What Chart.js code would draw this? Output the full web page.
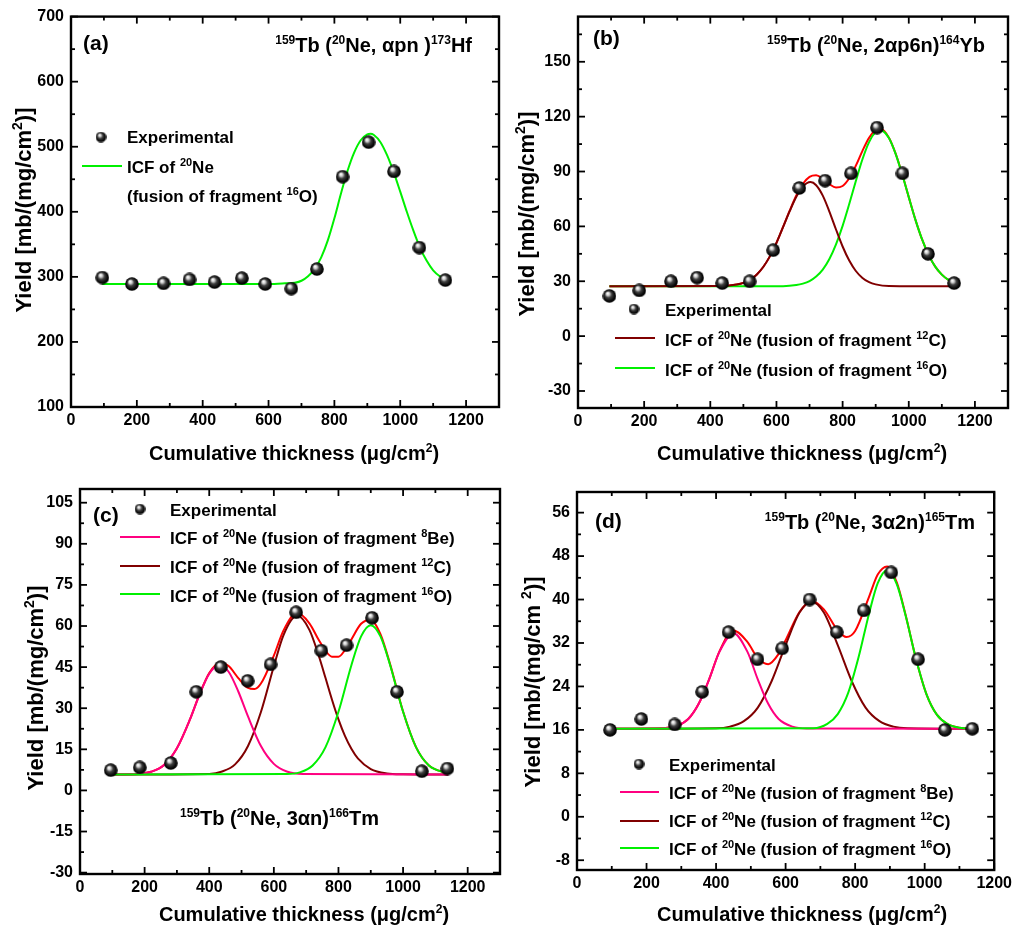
<!DOCTYPE html>
<html>
<head>
<meta charset="utf-8">
<script src="https://cdn.jsdelivr.net/npm/chart.js@4.4.1/dist/chart.umd.min.js"></script>
<style>
  html, body { margin: 0; padding: 0; background: #fff; }
  #page { position: relative; width: 1016px; height: 931px; overflow: hidden; }
  #page canvas { position: absolute; }
</style>
</head>
<body>
<div id="page">
  <canvas id="panelA" width="508" height="470" style="left:0;top:0"></canvas>
  <canvas id="panelB" width="508" height="470" style="left:508px;top:0"></canvas>
  <canvas id="panelC" width="508" height="461" style="left:0;top:470px"></canvas>
  <canvas id="panelD" width="508" height="461" style="left:508px;top:470px"></canvas>
</div>
<script>
// cumulative target thickness of each foil (ug/cm2), shared by all four panels
const thickness = [95, 185, 281, 360, 436, 519, 590, 669, 747, 825, 904, 981, 1058, 1137];

// measured yields, mb/(mg/cm2)
const yieldHf173 = [299, 289, 290, 296, 292, 298, 289, 282, 312, 454, 507, 462, 345, 295];
const yieldYb164 = [22, 25, 30, 32, 29, 30, 47, 81, 85, 89, 114, 89, 45, 29];
const yieldTm166 = [7.4, 8.4, 10, 36, 45, 40, 46, 65, 51, 53, 63, 36, 7, 8];
const yieldTm165 = [16, 18, 17, 23, 34, 29, 31, 40, 34, 38, 45, 29, 16, 16.2];

// (a) fitted ICF curve, 16O fragment
const aFit16Ox = [95, 600, 650, 680, 700, 720, 740, 760, 780, 800, 820, 840, 860, 880, 900, 910, 920, 940, 960, 980, 1000, 1020, 1040, 1060, 1080, 1100, 1120, 1140];
const aFit16Oy = [289, 289, 290, 291, 294, 301, 312, 330, 356, 390, 428, 463, 491, 510, 519, 520, 518, 507, 487, 461, 431, 400, 371, 345, 325, 310, 301, 296];

// (b) fitted components and their sum
const bFit12Cx = [95, 440, 480, 500, 520, 540, 560, 580, 600, 620, 640, 660, 680, 703, 720, 740, 760, 780, 800, 820, 840, 860, 880, 900, 940, 1140];
const bFit12Cy = [27.2, 27.4, 28.2, 29.1, 30.8, 33.6, 37.8, 43.6, 51, 59.6, 68.3, 76.2, 81.8, 84.2, 82.5, 76.8, 68.1, 58.3, 49, 41.3, 35.6, 31.8, 29.5, 28.3, 27.4, 27.2];
const bFit16Ox = [95, 620, 660, 680, 700, 720, 740, 760, 780, 800, 820, 840, 860, 880, 900, 913, 920, 940, 960, 980, 1000, 1020, 1040, 1060, 1080, 1100, 1120, 1140];
const bFit16Oy = [27.2, 27.3, 27.9, 28.7, 30.1, 32.6, 36.4, 42.2, 50.2, 60.3, 72.2, 84.8, 96.7, 106.1, 111.7, 112.8, 112.5, 108.3, 99.8, 88.5, 76, 63.7, 53, 44.4, 38, 33.6, 30.7, 29.1];
const bSumX = [95, 440, 480, 500, 520, 540, 560, 580, 600, 620, 640, 660, 680, 700, 720, 740, 760, 780, 800, 820, 840, 860, 880, 900, 916, 940, 960, 980, 1000, 1020, 1040, 1060, 1080, 1100, 1120, 1140];
const bSumY = [27.2, 27.4, 28.2, 29.1, 30.8, 33.6, 37.8, 43.6, 51, 59.7, 68.6, 76.9, 83.3, 87.1, 87.9, 86, 83.1, 81.3, 82.1, 86.3, 93.2, 101.3, 108.4, 112.8, 113.3, 108.5, 99.9, 88.6, 76, 63.7, 53, 44.4, 38, 33.6, 30.7, 29.1];

// (c) fitted components and their sum
const cFit8Bex = [95, 180, 220, 260, 300, 340, 370, 400, 432, 460, 490, 520, 560, 600, 640, 690, 1140];
const cFit8Bey = [5.8, 6.0, 6.8, 9.3, 15.4, 25.8, 35, 42.6, 45.8, 43.3, 36.1, 27, 16.2, 9.7, 6.9, 6.0, 5.8];
const cFit12Cx = [95, 400, 440, 480, 520, 560, 600, 630, 672, 710, 740, 760, 780, 800, 820, 840, 860, 900, 950, 1000, 1140];
const cFit12Cy = [5.8, 6.0, 6.9, 9.5, 16.2, 28.6, 45.3, 56.7, 63.8, 58.6, 48.8, 41, 33.1, 25.9, 19.9, 15.2, 11.7, 7.8, 6.2, 5.9, 5.8];
const cFit16Ox = [95, 640, 680, 720, 760, 800, 840, 870, 900, 930, 960, 1000, 1040, 1080, 1140];
const cFit16Oy = [5.8, 6.0, 6.6, 9.1, 15.8, 28.7, 45.7, 56.2, 60.3, 56.2, 45.7, 28.7, 15.8, 9.1, 6.2];
const cSumX = [95, 180, 220, 260, 300, 340, 370, 400, 432, 460, 490, 520, 540, 560, 600, 630, 672, 710, 740, 760, 780, 800, 820, 840, 870, 900, 930, 960, 1000, 1040, 1080, 1140];
const cSumY = [5.8, 6.0, 6.8, 9.3, 15.4, 25.8, 35.1, 42.8, 46.6, 45.4, 41.0, 37.4, 37.0, 39.0, 49.2, 58.4, 64.8, 61.0, 54.7, 51.0, 48.8, 48.8, 51.2, 55.1, 60.8, 62.3, 57.0, 46.0, 28.8, 15.8, 9.1, 6.2];

// (d) fitted components and their sum
const dFit8Bex = [95, 250, 290, 320, 350, 380, 410, 450, 490, 520, 550, 580, 620, 660, 1140];
const dFit8Bey = [16.2, 16.3, 16.8, 18, 20.8, 25.3, 30.4, 33.8, 30.4, 25.3, 20.8, 18, 16.6, 16.25, 16.2];
const dFit12Cx = [95, 400, 440, 480, 520, 560, 600, 640, 675, 710, 750, 790, 830, 870, 910, 950, 1140];
const dFit12Cy = [16.2, 16.3, 16.6, 17.6, 20.1, 25, 31.6, 37.6, 39.6, 37.6, 31.6, 25, 20.1, 17.6, 16.6, 16.3, 16.2];
const dFit16Ox = [95, 680, 720, 750, 780, 810, 840, 865, 892, 920, 945, 975, 1005, 1035, 1065, 1100, 1140];
const dFit16Oy = [16.2, 16.3, 17.1, 18.9, 22.8, 29.4, 37.4, 43, 45.4, 42.8, 37.1, 29.1, 22.6, 18.8, 17.1, 16.4, 16.2];
const dSumX = [95, 250, 290, 320, 350, 380, 410, 450, 490, 520, 550, 580, 600, 640, 675, 710, 750, 775, 800, 840, 865, 892, 920, 945, 975, 1005, 1035, 1065, 1100, 1140];
const dSumY = [16.2, 16.3, 16.8, 18, 20.8, 25.3, 30.5, 34.3, 32.2, 29.2, 28.1, 30, 32.5, 37.7, 39.7, 38.2, 34.3, 33.1, 34.2, 40.5, 44.6, 46.1, 43.1, 37.2, 29.1, 22.6, 18.8, 17.1, 16.4, 16.2];

// labelled tick values
const xTickVals = [0, 200, 400, 600, 800, 1000, 1200];
const aYTickVals = [100, 200, 300, 400, 500, 600, 700];
const bYTickVals = [-30, 0, 30, 60, 90, 120, 150];
const cYTickVals = [-30, -15, 0, 15, 30, 45, 60, 75, 90, 105];
const dYTickVals = [-8, 0, 8, 16, 24, 32, 40, 48, 56];

const FAMILY = '"Liberation Sans", Arial, Helvetica, sans-serif';
const GREEN = '#00f000';
const WINE = '#800000';
const RED = '#ff0000';
const PINK = '#ff0080';

function makeBall(d) {
  const c = document.createElement('canvas');
  c.width = d; c.height = d;
  const g = c.getContext('2d');
  const r = d / 2;
  const grad = g.createRadialGradient(r * 0.72, r * 0.62, r * 0.05, r, r, r);
  grad.addColorStop(0, '#ffffff');
  grad.addColorStop(0.2, '#cfcfcf');
  grad.addColorStop(0.45, '#404040');
  grad.addColorStop(0.8, '#080808');
  grad.addColorStop(1, '#000000');
  g.fillStyle = grad;
  g.beginPath();
  g.arc(r, r, r - 0.2, 0, Math.PI * 2);
  g.fill();
  return c;
}
const ball = makeBall(14);
const legendBall = makeBall(11);

function pts(xs, ys) {
  return xs.map((x, i) => ({ x: x, y: ys[i] }));
}

function expSet(ys) {
  return {
    data: pts(thickness, ys),
    pointStyle: ball, pointRadius: 7, pointHoverRadius: 7,
    showLine: false, order: 0
  };
}

function fitSet(xs, ys, color, order) {
  return {
    data: pts(xs, ys),
    showLine: true, borderColor: color, borderWidth: 2,
    pointRadius: 0, pointHoverRadius: 0,
    cubicInterpolationMode: 'monotone', fill: false, order: order
  };
}

// midpoints between labelled ticks, plus one step past each end if it fits
function minors(majors, lo, hi) {
  const step = majors[1] - majors[0];
  const out = [];
  if (majors[0] - step / 2 >= lo) out.push(majors[0] - step / 2);
  for (let i = 0; i < majors.length - 1; i++) out.push((majors[i] + majors[i + 1]) / 2);
  const last = majors[majors.length - 1] + step / 2;
  if (last <= hi) out.push(last);
  return out;
}

// text with ^{...} superscripts
function drawRich(ctx, str, x, y, size, align, rot) {
  const parts = [];
  const re = /\^\{([^}]*)\}/g;
  let last = 0, m;
  while ((m = re.exec(str))) {
    if (m.index > last) parts.push([str.slice(last, m.index), false]);
    parts.push([m[1], true]);
    last = re.lastIndex;
  }
  if (last < str.length) parts.push([str.slice(last), false]);
  const supSize = Math.round(size * 0.62);
  const font = s => 'bold ' + s + 'px ' + FAMILY;
  let w = 0;
  parts.forEach(p => { ctx.font = font(p[1] ? supSize : size); w += ctx.measureText(p[0]).width; });
  ctx.save();
  ctx.translate(x, y);
  if (rot) ctx.rotate(rot);
  ctx.fillStyle = '#000';
  ctx.textBaseline = 'alphabetic';
  ctx.textAlign = 'left';
  let cx = align === 'center' ? -w / 2 : align === 'right' ? -w : 0;
  parts.forEach(p => {
    ctx.font = font(p[1] ? supSize : size);
    ctx.fillText(p[0], cx, p[1] ? -size * 0.42 : 0);
    cx += ctx.measureText(p[0]).width;
  });
  ctx.restore();
}

function decorPlugin(spec, ox, oy) {
  return {
    id: 'panelDecor',
    afterDraw(chart) {
      const ctx = chart.ctx;
      const a = chart.chartArea;
      const sx = chart.scales.x, sy = chart.scales.y;
      const line = (x1, y1, x2, y2) => { ctx.beginPath(); ctx.moveTo(x1, y1); ctx.lineTo(x2, y2); ctx.stroke(); };
      ctx.save();
      ctx.strokeStyle = '#000';
      ctx.lineWidth = 1.8;
      // inward ticks on all four sides
      const xm = minors(xTickVals, sx.min, sx.max);
      const ym = minors(spec.yTicks, sy.min, sy.max);
      [[xTickVals, 7], [xm, 4]].forEach(([vals, len]) => vals.forEach(v => {
        const p = sx.getPixelForValue(v);
        line(p, a.bottom, p, a.bottom - len);
        line(p, a.top, p, a.top + len);
      }));
      [[spec.yTicks, 7], [ym, 4]].forEach(([vals, len]) => vals.forEach(v => {
        const p = sy.getPixelForValue(v);
        line(a.left, p, a.left + len, p);
        line(a.right, p, a.right - len, p);
      }));
      ctx.lineWidth = 2.4;
      ctx.strokeRect(a.left, a.top, a.right - a.left, a.bottom - a.top);

      // legend
      spec.legend.forEach(it => {
        if (it.ball) {
          ctx.drawImage(legendBall, it.ball[0] - ox - legendBall.width / 2, it.ball[1] - oy - legendBall.height / 2);
        }
        if (it.swatch) {
          ctx.strokeStyle = it.color;
          ctx.lineWidth = 2;
          line(it.swatch[0] - ox, it.swatch[2] - oy, it.swatch[1] - ox, it.swatch[2] - oy);
        }
      });
      // labels
      spec.labels.forEach(t => {
        drawRich(ctx, t.text, t.x - ox, t.y - oy, t.size, t.align || 'left', t.rot || 0);
      });
      ctx.restore();
    }
  };
}

function buildPanel(id, spec) {
  const canvas = document.getElementById(id);
  const ox = canvas.offsetLeft, oy = canvas.offsetTop;
  const tickFont = { family: FAMILY, size: 16, weight: 'bold' };
  return new Chart(canvas, {
    type: 'scatter',
    data: { datasets: spec.datasets },
    options: {
      responsive: false,
      animation: false,
      events: [],
      layout: { padding: spec.padding },
      plugins: { legend: { display: false }, tooltip: { enabled: false } },
      scales: {
        x: {
          type: 'linear', position: 'bottom', min: 0, max: spec.xMax,
          grid: { display: false, drawTicks: false }, border: { display: false },
          ticks: { font: tickFont, color: '#000', padding: 4, autoSkip: false, maxRotation: 0, callback: v => String(v) },
          afterBuildTicks: s => { s.ticks = xTickVals.map(v => ({ value: v })); },
          afterFit: s => { s.height = spec.xAxisHeight; }
        },
        y: {
          type: 'linear', position: 'left', min: spec.yMin, max: spec.yMax,
          grid: { display: false, drawTicks: false }, border: { display: false },
          ticks: { font: tickFont, color: '#000', padding: 7, autoSkip: false, callback: v => String(v) },
          afterBuildTicks: s => { s.ticks = spec.yTicks.map(v => ({ value: v })); },
          afterFit: s => { s.width = spec.yAxisWidth; }
        }
      }
    },
    plugins: [decorPlugin(spec, ox, oy)]
  });
}

const xTitle = 'Cumulative thickness (\u03bcg/cm^{2})';
const yTitle = 'Yield [mb/(mg/cm^{2})]';
const icf = frag => 'ICF of ^{20}Ne (fusion of fragment ' + frag + ')';

buildPanel('panelA', {
  xMax: 1300, yMin: 100, yMax: 700, yTicks: aYTickVals,
  padding: { left: 0, top: 10, right: 9, bottom: 0 }, yAxisWidth: 71, xAxisHeight: 63,
  datasets: [
    expSet(yieldHf173),
    fitSet(aFit16Ox, aFit16Oy, GREEN, 1)
  ],
  legend: [
    { ball: [101, 137] },
    { swatch: [82, 122, 166], color: GREEN }
  ],
  labels: [
    { text: '(a)', x: 83, y: 50, size: 21 },
    { text: '^{159}Tb (^{20}Ne, \u03b1pn )^{173}Hf', x: 472, y: 52, size: 20, align: 'right' },
    { text: 'Experimental', x: 127, y: 143, size: 17 },
    { text: 'ICF of ^{20}Ne', x: 127, y: 173, size: 17 },
    { text: '(fusion of fragment ^{16}O)', x: 127, y: 202, size: 17 },
    { text: xTitle, x: 294, y: 460, size: 20, align: 'center' },
    { text: yTitle, x: 31, y: 210, size: 22, align: 'center', rot: -Math.PI / 2 }
  ]
});

buildPanel('panelB', {
  xMax: 1300, yMin: -39.3, yMax: 174.7, yTicks: bYTickVals,
  padding: { left: 0, top: 10, right: 7, bottom: 0 }, yAxisWidth: 70, xAxisHeight: 62,
  datasets: [
    expSet(yieldYb164),
    fitSet(bFit12Cx, bFit12Cy, WINE, 1),
    fitSet(bFit16Ox, bFit16Oy, GREEN, 2),
    fitSet(bSumX, bSumY, RED, 3)
  ],
  legend: [
    { ball: [634, 309] },
    { swatch: [615, 655, 338], color: WINE },
    { swatch: [615, 655, 368], color: GREEN }
  ],
  labels: [
    { text: '(b)', x: 593, y: 45, size: 21 },
    { text: '^{159}Tb (^{20}Ne, 2\u03b1p6n)^{164}Yb', x: 985, y: 52, size: 20, align: 'right' },
    { text: 'Experimental', x: 665, y: 316, size: 17 },
    { text: icf('^{12}C'), x: 665, y: 346, size: 17 },
    { text: icf('^{16}O'), x: 665, y: 376, size: 17 },
    { text: xTitle, x: 802, y: 460, size: 20, align: 'center' },
    { text: yTitle, x: 534, y: 214, size: 22, align: 'center', rot: -Math.PI / 2 }
  ]
});

buildPanel('panelC', {
  xMax: 1300, yMin: -30.5, yMax: 110, yTicks: cYTickVals,
  padding: { left: 0, top: 19, right: 6, bottom: 0 }, yAxisWidth: 80, xAxisHeight: 57,
  datasets: [
    expSet(yieldTm166),
    fitSet(cFit16Ox, cFit16Oy, GREEN, 1),
    fitSet(cFit8Bex, cFit8Bey, PINK, 2),
    fitSet(cFit12Cx, cFit12Cy, WINE, 3),
    fitSet(cSumX, cSumY, RED, 4)
  ],
  legend: [
    { ball: [140, 509] },
    { swatch: [120, 160, 537], color: PINK },
    { swatch: [120, 160, 566], color: WINE },
    { swatch: [120, 160, 594], color: GREEN }
  ],
  labels: [
    { text: '(c)', x: 93, y: 522, size: 21 },
    { text: 'Experimental', x: 170, y: 516, size: 17 },
    { text: icf('^{8}Be'), x: 170, y: 544, size: 17 },
    { text: icf('^{12}C'), x: 170, y: 573, size: 17 },
    { text: icf('^{16}O'), x: 170, y: 602, size: 17 },
    { text: '^{159}Tb (^{20}Ne, 3\u03b1n)^{166}Tm', x: 180, y: 825, size: 20 },
    { text: xTitle, x: 304, y: 921, size: 20, align: 'center' },
    { text: yTitle, x: 43, y: 688, size: 22, align: 'center', rot: -Math.PI / 2 }
  ]
});

buildPanel('panelD', {
  xMax: 1200, yMin: -9.8, yMax: 59.8, yTicks: dYTickVals,
  padding: { left: 0, top: 22, right: 18, bottom: 0 }, yAxisWidth: 69, xAxisHeight: 61,
  datasets: [
    expSet(yieldTm165),
    fitSet(dFit16Ox, dFit16Oy, GREEN, 1),
    fitSet(dFit8Bex, dFit8Bey, PINK, 2),
    fitSet(dFit12Cx, dFit12Cy, WINE, 3),
    fitSet(dSumX, dSumY, RED, 4)
  ],
  legend: [
    { ball: [639, 764] },
    { swatch: [620, 659, 792], color: PINK },
    { swatch: [620, 659, 821], color: WINE },
    { swatch: [620, 659, 848], color: GREEN }
  ],
  labels: [
    { text: '(d)', x: 595, y: 528, size: 21 },
    { text: '^{159}Tb (^{20}Ne, 3\u03b12n)^{165}Tm', x: 975, y: 529, size: 20, align: 'right' },
    { text: 'Experimental', x: 669, y: 771, size: 17 },
    { text: icf('^{8}Be'), x: 669, y: 799, size: 17 },
    { text: icf('^{12}C'), x: 669, y: 827, size: 17 },
    { text: icf('^{16}O'), x: 669, y: 855, size: 17 },
    { text: xTitle, x: 802, y: 921, size: 20, align: 'center' },
    { text: 'Yield [mb/(mg/cm ^{2})]', x: 540, y: 682, size: 22, align: 'center', rot: -Math.PI / 2 }
  ]
});
</script>
</body>
</html>
